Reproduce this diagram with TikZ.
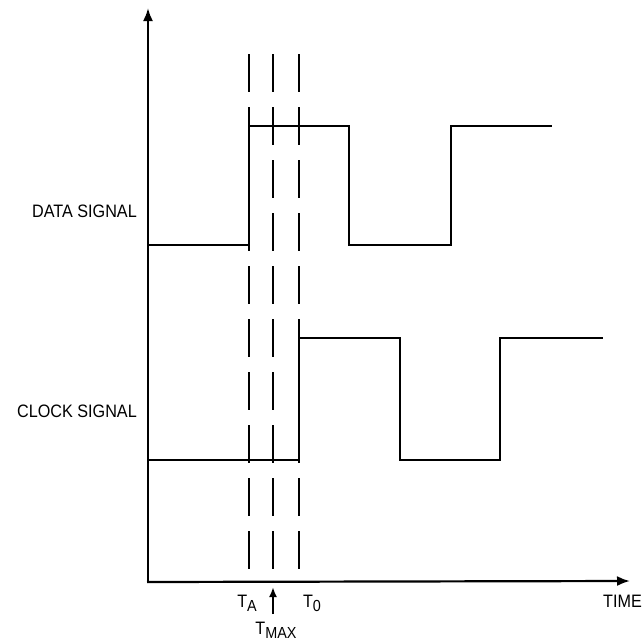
\documentclass[tikz,border=0pt]{standalone}
\usepackage{fontspec}
\setmainfont{Liberation Sans}[FakeStretch=0.9]
\usetikzlibrary{arrows.meta}
\newcommand{\subtxt}[1]{\raisebox{-4.5pt}{\fontsize{16}{18}\selectfont #1}}
\begin{document}
\begin{tikzpicture}[x=1pt,y=-1pt,
  wire/.style={line width=2.2pt,line join=miter},
  axis/.style={line width=2.2pt,-{Latex[length=13pt,width=10pt]}},
  dashline/.style={line width=2.2pt,dash pattern=on 38pt off 15pt},
  lbl/.style={font=\fontsize{18}{20}\selectfont,inner sep=0pt}]
\useasboundingbox (0,0) rectangle (642,643);
\coordinate (O) at (148,583);
\coordinate (Ytip) at (148,8);
\coordinate (X0) at (147,582);
\coordinate (Xtip) at (630,581);
\draw[axis] (O) -- (Ytip);
\draw[axis] (X0) -- (Xtip);
% dashed lines
\coordinate (dA1) at (249,54); \coordinate (dA2) at (249,583);
\coordinate (dM1) at (273,54); \coordinate (dM2) at (273,583);
\coordinate (d01) at (299,54); \coordinate (d02) at (299,583);
\draw[dashline] (dA1) -- (dA2);
\draw[dashline] (dM1) -- (dM2);
\draw[dashline] (d01) -- (d02);
% data signal
\draw[wire] (148,245) -- (249,245) -- (249,126) -- (349,126) -- (349,245) -- (451,245) -- (451,126) -- (552,126);
% clock signal
\draw[wire] (148,460) -- (299,460) -- (299,338) -- (400,338) -- (400,460) -- (500,460) -- (500,338) -- (603,338);
% labels
\node[lbl,anchor=east] (data) at (137,211) {DATA SIGNAL};
\node[lbl,anchor=east] (clock) at (137,411) {CLOCK SIGNAL};
\node[lbl,anchor=base] (ta) at (247,607) {T\subtxt{A}};
\node[lbl,anchor=base] (t0) at (312,607) {T\subtxt{0}};
\node[lbl,anchor=base] (tmax) at (276,634) {T\subtxt{MAX}};
\node[lbl,anchor=base west] (time) at (603,607) {TIME};
\coordinate (arrS) at (273,614);
\coordinate (arrE) at (273,587);
\draw[line width=2.2pt,-{Latex[length=10pt,width=8pt]}] (arrS) -- (arrE);
\end{tikzpicture}
\end{document}
